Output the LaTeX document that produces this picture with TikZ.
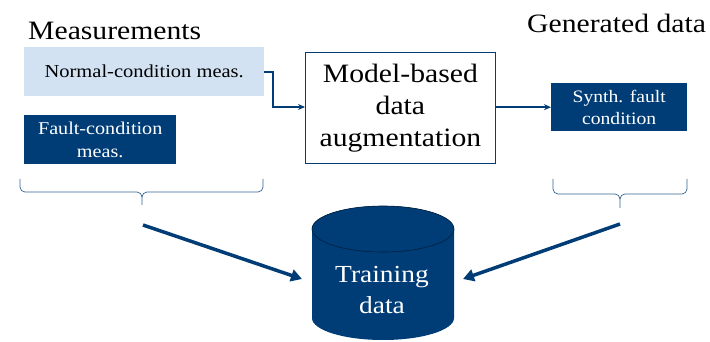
\documentclass[tikz,border=0pt]{standalone}
\usepackage{fontspec}
\setmainfont[FakeStretch=1.12]{Liberation Serif}
\usetikzlibrary{arrows.meta}
\definecolor{dblue}{RGB}{0,61,118}
\definecolor{lblue}{RGB}{210,226,243}
\begin{document}
\begin{tikzpicture}[x=1pt,y=-1pt,
  darkbox/.style={fill=dblue,text=white,align=center,inner sep=0pt},
  thinarr/.style={draw=dblue,line width=1.8pt,-{Stealth[length=7pt,width=6pt]}},
  thickarr/.style={draw=dblue,line width=3.5pt,-{Triangle[length=11pt,width=12pt]}},
  brace/.style={draw=dblue!80,line width=0.7pt}]
\useasboundingbox (0,0) rectangle (710,342);
\node[anchor=base west,font=\fontsize{26.5}{30}\selectfont,inner sep=0pt] (meas) at (28,40) {Measurements};
\node[anchor=base west,font=\fontsize{26.5}{30}\selectfont,inner sep=0pt] (gen) at (527,33) {Generated data};
\node[fill=lblue,minimum width=240pt,minimum height=49pt,inner sep=0pt,anchor=north west,font=\fontsize{18.3}{20}\selectfont] (normal) at (24,47) {Normal-condition meas.};
\node[darkbox,minimum width=152pt,minimum height=49pt,anchor=north west,font=\fontsize{18}{23}\selectfont] (fault) at (24,115) {Fault-condition\\meas.};
\node[draw=dblue,line width=0.8pt,fill=white,minimum width=190pt,minimum height=111pt,anchor=north west,align=center,inner sep=0pt,font=\fontsize{26.5}{32}\selectfont] (model) at (305,52) {Model-based\\data\\augmentation};
\node[darkbox,minimum width=136pt,minimum height=48pt,anchor=north west,font=\fontsize{17.5}{22}\selectfont] (synth) at (551,83) {Synth. fault\\condition};
\coordinate (bend1) at (273,72);
\coordinate (bend2) at (273,107);
\draw[thinarr] (normal.east |- bend1) -- (bend1) -- (bend2) -- (model.west |- bend2);
\draw[thinarr] (model.east |- synth.west) -- (synth.west);
% braces
\draw[brace] (20,179) -- (20,187) to[out=-90,in=180] (25,192) -- (137,192) to[out=0,in=90] (142,197) -- (142,205);
\draw[brace] (142,197) to[out=90,in=180] (147,192) -- (258,192) to[out=0,in=-90] (263,187) -- (263,179);
\draw[brace] (553,179) -- (553,189) to[out=-90,in=180] (558,194) -- (615,194) to[out=0,in=90] (620,199) -- (620,208);
\draw[brace] (620,199) to[out=90,in=180] (625,194) -- (682,194) to[out=0,in=-90] (687,189) -- (687,179);
% cylinder
\fill[dblue] (312,229) -- (312,318) arc[start angle=180,end angle=360,x radius=71,y radius=-22] -- (454,229) arc[start angle=0,end angle=180,x radius=71,y radius=-23] -- cycle;
\draw[black!50!dblue,line width=0.6pt,fill=dblue] (383,229) ellipse[x radius=71,y radius=23];
\node[text=white,align=center,font=\fontsize{24.5}{31}\selectfont] (train) at (382,290) {Training\\data};
\coordinate (l1) at (143,225);
\coordinate (l2) at (302,279);
\coordinate (r1) at (620,224);
\coordinate (r2) at (463,279);
\draw[thickarr] (l1) -- (l2);
\draw[thickarr] (r1) -- (r2);
\end{tikzpicture}
\end{document}
